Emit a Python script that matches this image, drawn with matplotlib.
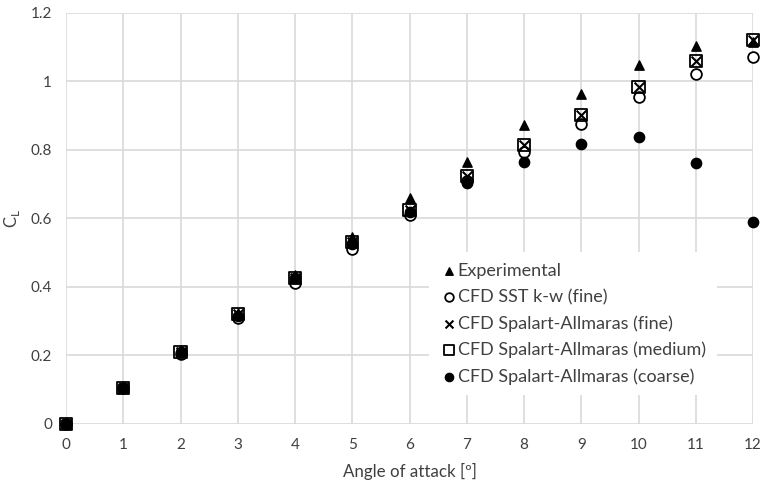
import matplotlib.pyplot as plt
from matplotlib.ticker import FuncFormatter

plt.rcParams['font.family'] = ['Lato', 'DejaVu Sans']

alpha = [0, 1, 2, 3, 4, 5, 6, 7, 8, 9, 10, 11, 12]
experimental = [0, 0.105, 0.215, 0.325, 0.435, 0.545, 0.66, 0.765, 0.873, 0.963, 1.048, 1.104, 1.115]
sst_fine = [0, 0.105, 0.205, 0.31, 0.413, 0.51, 0.61, 0.71, 0.794, 0.876, 0.955, 1.022, 1.072]
sa_fine = [0, 0.105, 0.21, 0.32, 0.425, 0.53, 0.625, 0.725, 0.815, 0.902, 0.984, 1.06, 1.121]
sa_medium = [0, 0.105, 0.21, 0.32, 0.425, 0.53, 0.625, 0.725, 0.815, 0.902, 0.984, 1.06, 1.121]
sa_coarse = [0, 0.105, 0.21, 0.315, 0.425, 0.525, 0.62, 0.703, 0.765, 0.817, 0.838, 0.762, 0.59]

fig = plt.figure(figsize=(7.64, 4.86), dpi=100)
ax = fig.add_axes([0.0864, 0.1276, 0.8992, 0.8457])

kw = dict(zorder=3, clip_on=False)
ax.scatter(alpha, experimental, marker='^', s=45, color='black', label='Experimental', **kw)
ax.scatter(alpha, sst_fine, marker='o', s=60, facecolors='white', edgecolors='black',
           linewidths=1.3, label='CFD SST k-w (fine)', **kw)
ax.scatter(alpha, sa_fine, marker='x', s=50, color='black', linewidths=1.5,
           label='CFD Spalart-Allmaras (fine)', **kw)
ax.scatter(alpha, sa_medium, marker='s', s=75, facecolors='none', edgecolors='black',
           linewidths=1.3, label='CFD Spalart-Allmaras (medium)', **kw)
ax.scatter(alpha, sa_coarse, marker='o', s=55, color='black',
           label='CFD Spalart-Allmaras (coarse)', **kw)

ax.set_xlim(0, 12)
ax.set_ylim(0, 1.2)
ax.set_xticks(range(0, 13))
ax.set_yticks([0, 0.2, 0.4, 0.6, 0.8, 1.0, 1.2])
ax.yaxis.set_major_formatter(FuncFormatter(lambda v, p: '%g' % round(v, 2)))
ax.grid(True, color='#d9d9d9', linewidth=1.2)
ax.set_axisbelow(True)
for s in ax.spines.values():
    s.set_visible(False)
ax.tick_params(length=0, labelsize=11, labelcolor='#404040', pad=10)

ax.set_xlabel('Angle of attack [º]', fontsize=12.2, color='#404040', labelpad=8)
ax.set_ylabel('C$_\\mathregular{L}$', fontsize=12, color='#404040', labelpad=6)

leg = ax.legend(loc='upper left', bbox_to_anchor=(0.515, 0.44), frameon=True,
                fontsize=13, handletextpad=0.0, handlelength=1.0,
                labelspacing=0.55, borderpad=0.6, markerscale=0.8, fancybox=False)
leg.get_frame().set_edgecolor('none')
leg.get_frame().set_facecolor('white')
leg.get_frame().set_alpha(1)
leg.set_zorder(5)
for t in leg.get_texts():
    t.set_color('#404040')

fig.savefig('out.png', dpi=100)
